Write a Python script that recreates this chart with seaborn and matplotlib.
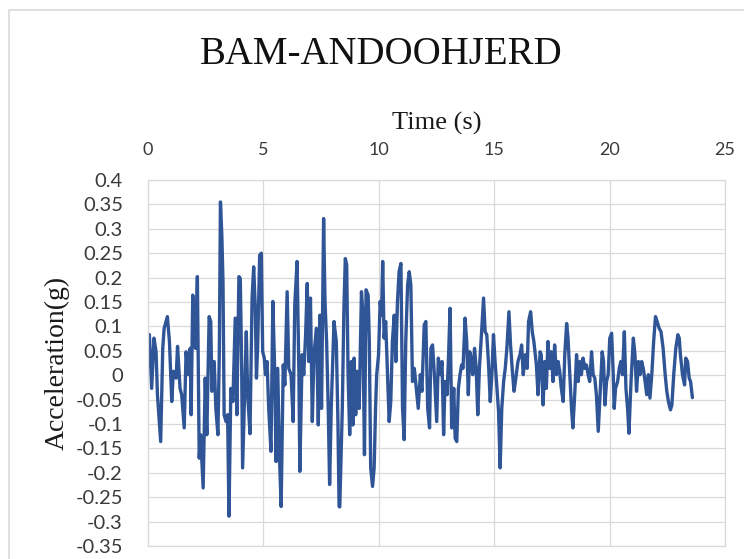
import pandas as pd
import matplotlib
matplotlib.use("Agg")
import matplotlib.pyplot as plt
from matplotlib.patches import Rectangle
import seaborn as sns

# Acceleration time history
time_s = [
    0.00, 0.01, 0.06, 0.16, 0.26, 0.35, 0.41, 0.55, 0.64, 0.70, 0.84, 0.93, 1.03, 1.10, 1.22,
    1.28, 1.39, 1.46, 1.57, 1.65, 1.75, 1.83, 1.87, 1.94, 2.01, 2.06, 2.14, 2.22, 2.28, 2.39,
    2.48, 2.55, 2.65, 2.72, 2.77, 2.87, 2.94, 3.03, 3.09, 3.14, 3.20, 3.25, 3.30, 3.38, 3.45,
    3.51, 3.59, 3.68, 3.78, 3.85, 3.94, 4.00, 4.06, 4.10, 4.17, 4.26, 4.32, 4.42, 4.51, 4.58,
    4.65, 4.70, 4.75, 4.84, 4.91, 4.97, 5.04, 5.09, 5.16, 5.23, 5.33, 5.41, 5.48, 5.55, 5.62,
    5.70, 5.77, 5.86, 5.93, 6.03, 6.10, 6.20, 6.29, 6.36, 6.46, 6.54, 6.58, 6.68, 6.75, 6.83,
    6.90, 6.97, 7.04, 7.12, 7.19, 7.30, 7.38, 7.45, 7.52, 7.61, 7.67, 7.74, 7.81, 7.87, 7.94,
    8.06, 8.16, 8.23, 8.28, 8.31, 8.42, 8.49, 8.55, 8.61, 8.67, 8.74, 8.81, 8.88, 8.93, 9.00,
    9.07, 9.15, 9.25, 9.30, 9.38, 9.45, 9.54, 9.59, 9.65, 9.73, 9.80, 9.86, 9.91, 9.99, 10.06,
    10.12, 10.17, 10.23, 10.30, 10.38, 10.45, 10.52, 10.59, 10.67, 10.74, 10.81, 10.88, 10.96,
    11.03, 11.10, 11.17, 11.25, 11.32, 11.39, 11.46, 11.54, 11.61, 11.71, 11.80, 11.87, 11.97,
    12.04, 12.12, 12.20, 12.26, 12.33, 12.41, 12.51, 12.58, 12.67, 12.74, 12.81, 12.87, 12.96,
    13.02, 13.09, 13.16, 13.25, 13.31, 13.38, 13.45, 13.52, 13.59, 13.65, 13.74, 13.81, 13.88,
    13.94, 14.00, 14.07, 14.15, 14.22, 14.29, 14.36, 14.44, 14.54, 14.61, 14.68, 14.75, 14.83,
    14.90, 14.97, 15.04, 15.12, 15.19, 15.26, 15.33, 15.41, 15.48, 15.55, 15.64, 15.71, 15.78,
    15.86, 15.94, 16.03, 16.12, 16.19, 16.26, 16.35, 16.43, 16.49, 16.58, 16.65, 16.72, 16.83,
    16.90, 16.99, 17.04, 17.12, 17.19, 17.26, 17.33, 17.41, 17.48, 17.55, 17.62, 17.70, 17.77,
    17.84, 17.91, 17.99, 18.06, 18.14, 18.20, 18.28, 18.35, 18.41, 18.49, 18.57, 18.64, 18.71,
    18.78, 18.85, 18.93, 19.00, 19.07, 19.14, 19.22, 19.29, 19.36, 19.43, 19.51, 19.59, 19.68,
    19.74, 19.80, 19.87, 19.94, 20.01, 20.09, 20.16, 20.20, 20.26, 20.35, 20.42, 20.49, 20.56,
    20.64, 20.71, 20.78, 20.84, 20.93, 21.03, 21.10, 21.17, 21.25, 21.32, 21.39, 21.46, 21.54,
    21.61, 21.68, 21.75, 21.83, 21.91, 21.99, 22.06, 22.15, 22.23, 22.32, 22.41, 22.48, 22.55,
    22.64, 22.70, 22.78, 22.87, 22.96, 23.02, 23.07, 23.16, 23.25, 23.30, 23.38, 23.45, 23.51,
    23.59,
]
accel_g = [
    0.083, 0.028, 0.083, -0.027, 0.076, 0.048, -0.040, -0.136, 0.055, 0.096, 0.120, 0.069, -0.054, 0.008, -0.006,
    0.059, -0.027, -0.040, -0.108, 0.048, 0.001, 0.055, -0.081, 0.164, 0.117, 0.055, 0.202, -0.170, -0.122, -0.231,
    -0.006, -0.122, 0.120, 0.110, -0.033, 0.028, -0.068, -0.122, 0.042, 0.355, 0.287, 0.192, -0.081, -0.095, -0.081,
    -0.289, -0.027, -0.054, 0.117, -0.081, 0.202, 0.198, 0.014, -0.190, -0.068, 0.089, -0.040, -0.120, 0.158, 0.222,
    0.137, -0.006, 0.055, 0.246, 0.250, 0.048, 0.035, 0.001, 0.028, -0.068, -0.156, 0.151, 0.028, -0.177, 0.014,
    -0.170, -0.269, 0.021, -0.020, 0.171, 0.014, 0.001, -0.095, 0.144, 0.233, 0.001, -0.197, 0.042, 0.001, 0.083,
    0.188, 0.028, 0.158, -0.095, 0.042, 0.096, -0.102, 0.123, -0.068, 0.321, 0.151, 0.069, -0.068, -0.224, -0.068,
    0.110, 0.069, -0.095, -0.269, -0.270, -0.068, 0.137, 0.239, 0.226, 0.001, -0.122, 0.028, -0.102, 0.035, -0.081,
    0.008, -0.068, 0.171, 0.137, -0.163, 0.175, 0.164, 0.069, -0.190, -0.228, -0.190, -0.068, 0.001, 0.042, 0.151,
    0.123, 0.233, 0.076, 0.110, 0.001, -0.095, -0.054, 0.069, 0.123, 0.028, 0.151, 0.212, 0.229,
    -0.068, -0.132, 0.069, 0.185, 0.212, 0.185, -0.013, 0.014, -0.020, -0.068, 0.001, -0.033, 0.103,
    0.110, -0.068, -0.108, 0.055, 0.062, 0.001, -0.095, 0.035, 0.001, 0.028, -0.122, -0.013, -0.040,
    0.035, 0.137, -0.108, -0.027, -0.129, -0.136, -0.027, 0.001, 0.021, 0.014, 0.117, 0.069, -0.040,
    0.048, 0.035, 0.001, 0.055, 0.014, -0.081, 0.014, 0.076, 0.158, 0.089, 0.083, 0.028, -0.054,
    0.001, 0.083, 0.028, -0.027, -0.074, -0.190, -0.068, -0.013, 0.014, 0.055, 0.130, 0.062, 0.014,
    -0.033, -0.006, 0.028, 0.042, 0.062, 0.001, 0.042, 0.014, 0.110, 0.130, 0.089, 0.069, 0.021,
    -0.040, 0.048, 0.042, -0.061, 0.028, -0.027, 0.069, 0.014, 0.048, -0.013, 0.062, 0.001, 0.028,
    0.008, -0.027, -0.054, 0.042, 0.106, 0.076, 0.001, -0.068, -0.108, -0.040, 0.042, -0.013, 0.028,
    0.001, 0.035, 0.014, 0.021, 0.001, -0.013, 0.048, 0.001, -0.006, -0.040, -0.115, -0.040, 0.048,
    0.028, -0.061, -0.013, 0.001, 0.076, 0.086, 0.001, -0.068, -0.027, -0.013, 0.014, 0.028, 0.001,
    0.089, -0.027, -0.068, -0.119, -0.013, 0.076, 0.042, -0.033, 0.028, 0.001, 0.028, 0.014, -0.013,
    -0.040, 0.001, -0.047, 0.001, 0.069, 0.120, 0.110, 0.096, 0.089, 0.055, 0.001, -0.033, -0.054,
    -0.071, -0.061, 0.001, 0.055, 0.083, 0.076, 0.042, 0.001, -0.020, 0.035, 0.028, -0.006, -0.013,
    -0.046,
]

x_ticks = [0, 5, 10, 15, 20, 25]
y_ticks = [0.4, 0.35, 0.3, 0.25, 0.2, 0.15, 0.1, 0.05, 0, -0.05, -0.1, -0.15,
           -0.2, -0.25, -0.3, -0.35]
y_tick_labels = ["0.4", "0.35", "0.3", "0.25", "0.2", "0.15", "0.1", "0.05", "0",
                 "-0.05", "-0.1", "-0.15", "-0.2", "-0.25", "-0.3", "-0.35"]

df = pd.DataFrame({"time": time_s, "accel": accel_g})

sns.set_style("white")
plt.rcParams["font.family"] = ["Lato", "DejaVu Sans"]

grid_col = "#d9d9d9"
line_col = "#2f5597"
tick_col = "#3a3a3a"

fig = plt.figure(figsize=(7.44, 5.59), dpi=100)
ax = fig.add_axes([0.1989, 0.0233, 0.7755, 0.6547])

sns.lineplot(data=df, x="time", y="accel", ax=ax, color=line_col,
             linewidth=2.4, sort=False, estimator=None)

ax.set_xlim(0, 25)
ax.set_ylim(-0.35, 0.4)
ax.set_xticks(x_ticks)
ax.set_yticks(y_ticks)
ax.set_yticklabels(y_tick_labels)

ax.xaxis.tick_top()
ax.xaxis.set_label_position("top")
ax.tick_params(axis="x", length=0, pad=16, labelsize=13, labelcolor=tick_col)
ax.tick_params(axis="y", length=0, pad=18, labelsize=14.5, labelcolor=tick_col)

ax.grid(True, color=grid_col, linewidth=0.9)
ax.set_axisbelow(True)
for sp in ax.spines.values():
    sp.set_color(grid_col)
    sp.set_linewidth(0.9)

ax.set_xlabel("Time (s)", fontsize=19, family="Liberation Serif", color="#1a1a1a", labelpad=9)
ax.set_ylabel("Acceleration(g)", fontsize=20, family="Liberation Serif", color="#1a1a1a")
ax.yaxis.set_label_coords(-0.136, 0.5)

fig.text(0.512, 0.885, "BAM-ANDOOHJERD", ha="center", va="baseline",
         fontsize=28, family="Liberation Serif", color="#111111")

# light chart-area border
fig.patches.append(Rectangle((0.0121, -0.01), 1.0, 0.992, transform=fig.transFigure,
                             fill=False, edgecolor=grid_col, linewidth=1.2))

fig.savefig("out.png", dpi=100)
